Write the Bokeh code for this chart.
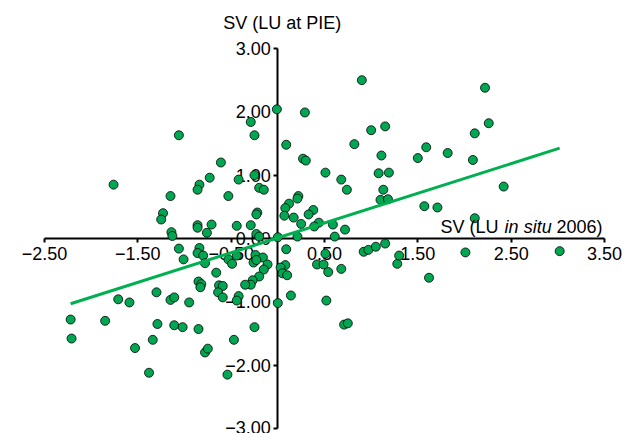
from bokeh.plotting import figure
from bokeh.models import FixedTicker, Label
from bokeh.embed import file_html
from bokeh.resources import INLINE

# SV (LU in situ 2006) -> x, SV (LU at PIE) -> y
sv_insitu = [
    -1.06, -1.76, -1.15, -1.23, -1.25, -1.14, -1.13, -0.01, -0.29, -0.25,
    -0.61, -0.73, -0.84, -0.86, -0.42, -0.25, -0.20, -0.15, -0.53, -0.22,
    -0.23, -0.86, -0.86, -0.71, -0.76, -0.44, -0.29, -0.23, -0.20, 0.90,
    0.29, 1.00, 0.09, 0.82, 0.27, 0.30, 0.51, 0.68, 0.74, 0.22,
    0.21, 0.12, 0.08, 0.07, 0.17, 0.38, 0.33, 0.25, 0.44, 0.39,
    0.59, 0.72, 0.21, 0.61, 0.00, 2.22, 1.15, 2.26, 2.11, 1.59,
    1.50, 1.82, 2.09, 1.11, 1.08, 1.19, 1.13, 1.10, 1.18, 2.42,
    1.57, 1.71, 2.11, 0.42, 0.49, 0.51, 0.54, 0.68, 0.52, 0.71,
    0.75, 0.92, 0.97, 1.05, 1.15, 1.28, 1.30, 1.62, 2.01, 3.02,
    0.09, 0.08, 0.03, 0.05, 0.10, 0.14, 0.00, -1.06, -1.01, -0.84,
    -0.86, -0.80, -0.78, -0.53, -0.49, -0.44, -0.24, -0.26, -0.16, -0.23,
    -0.11, -0.15, -0.20, -0.27, -0.29, -0.35, -0.66, -0.85, -0.82, -0.83,
    -0.63, -0.59, -0.64, -0.59, -0.42, -0.44, -1.30, -1.71, -1.59, -1.15,
    -1.11, -0.95, -2.22, -1.85, -2.21, -1.29, -1.11, -1.02, -0.85, -0.25,
    -1.53, -1.34, -0.47, -0.78, -0.75, -1.38, -0.54,
]
sv_pie = [
    1.63, 0.85, 0.67, 0.40, 0.30, 0.10, 0.04, 2.04, 1.84, 1.63,
    1.20, 0.96, 0.85, 0.77, 0.93, 1.00, 0.80, 0.77, 0.67, 0.41,
    0.38, 0.21, 0.17, 0.22, 0.09, 0.20, 0.21, 0.07, 0.03, 2.50,
    1.99, 1.71, 1.48, 1.49, 1.26, 1.23, 1.04, 0.93, 0.77, 0.67,
    0.63, 0.55, 0.48, 0.36, 0.33, 0.45, 0.38, 0.23, 0.25, 0.19,
    0.22, 0.14, 0.03, 0.03, 0.02, 2.38, 1.77, 1.82, 1.66, 1.44,
    1.27, 1.35, 1.24, 1.31, 1.03, 1.04, 0.77, 0.61, 0.62, 0.82,
    0.51, 0.49, 0.32, -0.41, -0.41, -0.24, -0.53, -0.48, -0.98, -1.36,
    -1.34, -0.21, -0.18, -0.13, -0.08, -0.40, -0.27, -0.62, -0.22, -0.20,
    -0.17, -0.42, -0.46, -0.55, -0.58, -0.90, -1.02, -0.16, -0.33, -0.15,
    -0.23, -0.27, -0.39, -0.33, -0.40, -0.27, -0.26, -0.38, -0.30, -0.34,
    -0.41, -0.49, -0.60, -0.66, -0.73, -0.73, -0.54, -0.68, -0.72, -0.77,
    -0.74, -0.75, -0.85, -0.93, -0.91, -0.98, -0.85, -0.96, -1.01, -0.97,
    -0.93, -1.01, -1.28, -1.30, -1.58, -1.35, -1.37, -1.40, -1.43, -1.40,
    -1.73, -1.60, -1.60, -1.80, -1.74, -2.12, -2.15,
]

fit_slope = 0.469
fit_intercept = 0.01

x_ticks = [-2.5, -1.5, -0.5, 0.5, 1.5, 2.5, 3.5]
x_tick_labels = ["\u22122.50", "\u22121.50", "\u22120.50", "0.50", "1.50", "2.50", "3.50"]
y_ticks = [-3, -2, -1, 0, 1, 2, 3]
y_tick_labels = ["\u22123.00", "\u22122.00", "\u22121.00", "0.00", "1.00", "2.00", "3.00"]

y_axis_title = "SV (LU at PIE)"
x_axis_title_parts = ["SV (LU", "in situ", "2006)"]

FONT = "Liberation Sans"
W, H = 628, 433
PX_PER_X = 93.33
X_LEFT_PX = 44          # pixel position of x = -2.5
x_start = -2.5 - X_LEFT_PX / PX_PER_X
x_end = x_start + W / PX_PER_X
PX_PER_Y = 63.33
Y_TOP_PX = 48           # pixel position of y = 3
y_end = 3 + Y_TOP_PX / PX_PER_Y
y_start = y_end - H / PX_PER_Y

p = figure(width=W, height=H, x_range=(x_start, x_end), y_range=(y_start, y_end),
           output_backend="svg", toolbar_location=None, title=None,
           min_border=0, min_border_left=0, min_border_right=0,
           min_border_top=0, min_border_bottom=0)
p.grid.visible = False
p.outline_line_color = None
p.background_fill_color = "white"
p.border_fill_color = "white"

for ax in (p.xaxis[0], p.yaxis[0]):
    ax.fixed_location = 0
    ax.axis_line_color = "black"
    ax.axis_line_width = 2
    ax.major_tick_line_color = "black"
    ax.major_tick_line_width = 2
    ax.major_tick_in = 0
    ax.major_tick_out = 4
    ax.minor_tick_line_color = None
    ax.major_label_text_font = FONT
    ax.major_label_text_font_size = "18px"
    ax.major_label_text_color = "black"
    ax.level = "underlay"

p.xaxis.ticker = FixedTicker(ticks=x_ticks)
p.xaxis.major_label_overrides = dict(zip(x_ticks, x_tick_labels))
p.xaxis.bounds = (x_ticks[0], x_ticks[-1])
p.xaxis.major_label_standoff = 5

p.yaxis.ticker = FixedTicker(ticks=y_ticks)
p.yaxis.major_label_overrides = dict(zip(y_ticks, y_tick_labels))
p.yaxis.bounds = (y_ticks[0], y_ticks[-1])
p.yaxis.major_label_standoff = 3

p.scatter(sv_insitu, sv_pie, marker="circle", size=9, fill_color="#00A651",
          line_color="black", line_width=0.8)

fx = [min(sv_insitu), max(sv_insitu)]
fy = [fit_slope * v + fit_intercept for v in fx]
p.line(fx, fy, line_color="#00B050", line_width=3)

p.add_layout(Label(x=-0.585, y=3.395, text=y_axis_title, text_font=FONT,
                   text_font_size="18px", text_baseline="middle", text_color="black"))
label_x = [1.743, 2.43, 2.986]
label_styles = ["normal", "italic", "normal"]
for tx, txt, st in zip(label_x, x_axis_title_parts, label_styles):
    p.add_layout(Label(x=tx, y=0.174, text=txt, text_font=FONT, text_font_size="18px",
                       text_font_style=st, text_baseline="middle", text_align="left",
                       text_color="black"))

open("out.html", "w").write(file_html(p, INLINE))
